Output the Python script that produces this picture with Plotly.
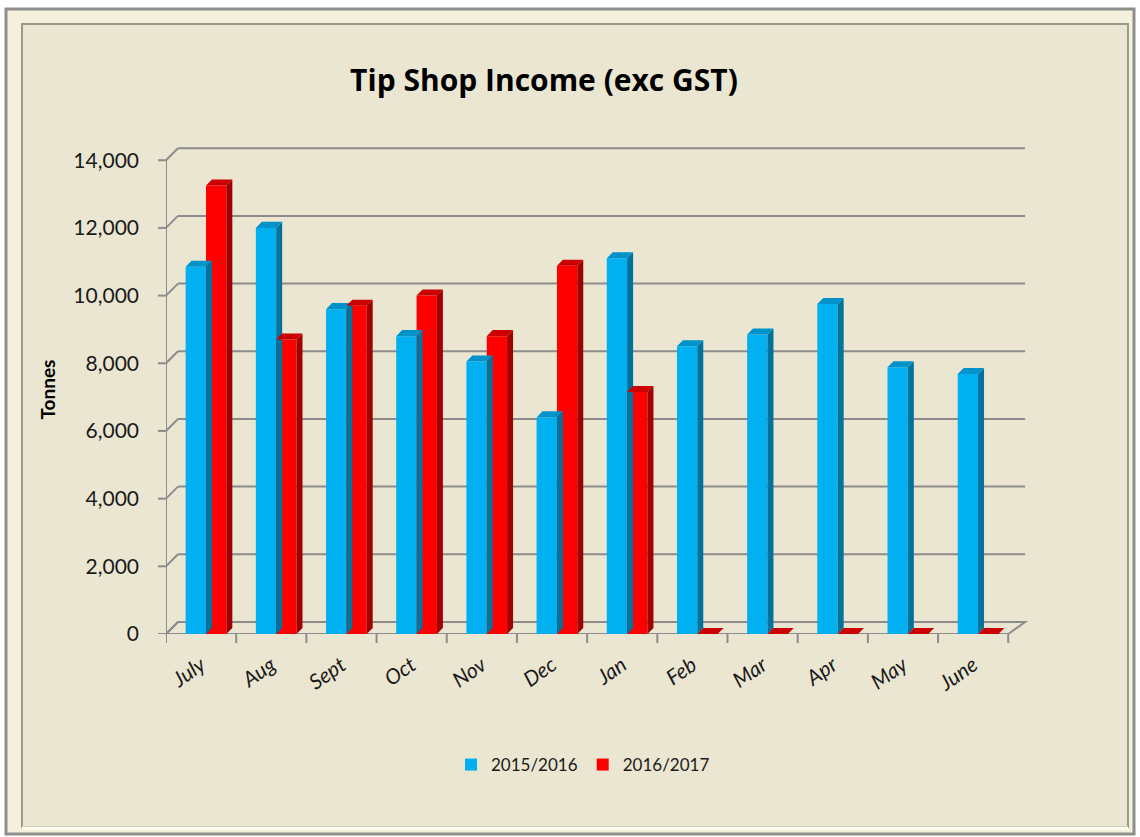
import plotly.graph_objects as go

months = ['July', 'Aug', 'Sept', 'Oct', 'Nov', 'Dec', 'Jan', 'Feb', 'Mar', 'Apr', 'May', 'June']
s1516 = [10850, 12000, 9600, 8800, 8050, 6400, 11100, 8500, 8850, 9750, 7880, 7680]
s1617 = [13250, 8700, 9700, 10000, 8800, 10880, 7150, 0, 0, 0, 0, 0]
y_ticks = [0, 2000, 4000, 6000, 8000, 10000, 12000, 14000]

BG = '#EBE6D1'
GRID = '#8C8C8C'
W, H = 1140, 837
L, R, T, B = 166, 1030, 145, 634

# 3D look: wall depth and bar depth, in data units
dx, dy = 0.17, 355
bdx, bdy = 0.085, 180
bw = 0.29
shift = 0.07

x = list(range(len(months)))


def px(xp):
    return (xp - L) / (R - L)


def py(yp):
    return (B - yp) / (B - T)


def faces(vals, off):
    # side face and top face polygons of each bar, joined with None gaps
    sx, sy, tx, ty = [], [], [], []
    for i, v in enumerate(vals):
        x0 = i + off
        x1 = x0 + bw
        sx += [x1, x1 + bdx, x1 + bdx, x1, x1, None]
        sy += [0, bdy, v + bdy, v, 0, None]
        tx += [x0, x1, x1 + bdx, x0 + bdx, x0, None]
        ty += [v, v, v + bdy, v + bdy, v, None]
    return sx, sy, tx, ty


fig = go.Figure()

series = [
    ('2015/2016', s1516, -bw + shift, '#00B0F0', '#00729C', '#0092C8'),
    ('2016/2017', s1617, shift, '#FF0000', '#A00000', '#CC0000'),
]

for name, vals, off, col, side, top in series:
    sx, sy, tx, ty = faces(vals, off)
    fig.add_trace(go.Scatter(x=sx, y=sy, mode='lines', fill='toself', fillcolor=side,
                             line=dict(width=0, color=side), showlegend=False, hoverinfo='skip'))
    fig.add_trace(go.Scatter(x=tx, y=ty, mode='lines', fill='toself', fillcolor=top,
                             line=dict(width=0, color=top), showlegend=False, hoverinfo='skip'))
    fig.add_trace(go.Bar(x=x, y=vals, name=name, marker_color=col, marker_line_width=0,
                         offset=off, width=bw))

shapes = []
# walls: grid lines on the back wall with diagonals from the front axis
for v in y_ticks:
    shapes.append(dict(type='line', xref='x', yref='y', x0=-0.5, y0=v, x1=-0.5 + dx, y1=v + dy,
                       line=dict(color=GRID, width=2), layer='below'))
    if v > 0:
        shapes.append(dict(type='line', xref='x', yref='y', x0=-0.5 + dx, y0=v + dy, x1=11.5 + dx + 0.07, y1=v + dy,
                           line=dict(color=GRID, width=2), layer='below'))
# floor
shapes.append(dict(type='path', xref='x', yref='y',
                   path='M -0.5,0 L 11.5,0 L %f,%f L %f,%f Z' % (11.5 + dx + 0.07, dy, -0.5 + dx, dy),
                   line=dict(color=GRID, width=2), layer='below'))
# left axis line
shapes.append(dict(type='line', xref='x', yref='y', x0=-0.5, y0=0, x1=-0.5, y1=14000,
                   line=dict(color=GRID, width=2), layer='below'))
for v in y_ticks:
    shapes.append(dict(type='line', xref='paper', yref='y', x0=px(158), y0=v, x1=px(166), y1=v,
                       line=dict(color=GRID, width=2)))
for i in range(len(months) + 1):
    shapes.append(dict(type='line', xref='x', yref='paper', x0=i - 0.5, y0=0, x1=i - 0.5, y1=py(643),
                       line=dict(color=GRID, width=2)))

# chart frame
shapes.append(dict(type='rect', xref='paper', yref='paper', x0=px(6), y0=py(9), x1=px(1134), y1=py(834),
                   line=dict(color='#8E8E8A', width=3), fillcolor='#F4F0DC', layer='below'))
shapes.append(dict(type='rect', xref='paper', yref='paper', x0=px(22), y0=py(24), x1=px(1128), y1=py(827),
                   line=dict(color='#9C9A88', width=2), fillcolor=BG, layer='below'))
shapes.append(dict(type='line', xref='paper', yref='paper', x0=px(22), y0=py(828), x1=px(1128), y1=py(828),
                   line=dict(color='#FFFFF4', width=3)))

fig.update_layout(
    width=W, height=H,
    margin=dict(l=L, r=W - R, t=T, b=H - B),
    paper_bgcolor='white',
    plot_bgcolor='rgba(0,0,0,0)',
    barmode='overlay',
    font=dict(family='Lato, Open Sans, sans-serif', color='#1a1a1a'),
    title=dict(text='<b>Tip Shop Income (exc GST)</b>', xref='container', x=544 / W, xanchor='center',
               y=1 - 80 / H, yanchor='middle',
               font=dict(family='Open Sans, sans-serif', size=30, color='black')),
    xaxis=dict(range=[-0.5, 11.5 + 0.31], tickvals=x, ticktext=months, tickangle=-35,
               showgrid=False, showline=False, zeroline=False, ticks='', ticklabelstandoff=14,
               tickfont=dict(size=21, style='italic'), fixedrange=True),
    yaxis=dict(range=[0, 14450], tickvals=y_ticks, tickformat=',', showgrid=False,
               showline=False, zeroline=False, ticks='', ticklabelstandoff=26,
               tickfont=dict(size=21), fixedrange=True,
               title=dict(text='<b>Tonnes</b>', font=dict(size=19, color='black'), standoff=12)),
    legend=dict(orientation='h', x=px(583), xanchor='center', y=py(765), yanchor='middle',
                font=dict(size=17), bgcolor='rgba(0,0,0,0)', traceorder='normal'),
    shapes=shapes,
    showlegend=True,
)

fig.write_html('out.html', config={'displayModeBar': False},
               post_script="document.body.style.margin='0';document.body.style.overflow='hidden';")
